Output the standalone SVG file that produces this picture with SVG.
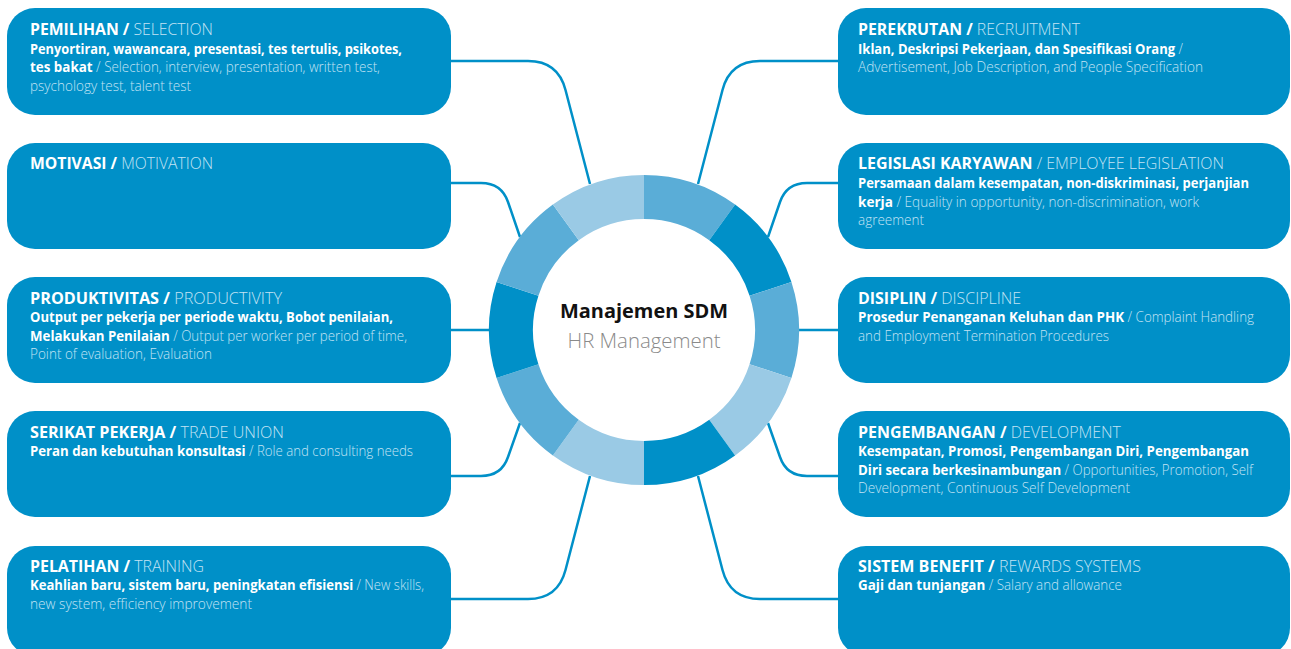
<svg xmlns="http://www.w3.org/2000/svg" width="1291" height="649" viewBox="0 0 1291 649">
<style>
.box{fill:#0090c8}
.t{font-family:"Open Sans","Liberation Sans",sans-serif;font-size:16px}
.b{font-family:"Open Sans","Liberation Sans",sans-serif;font-size:14px}
.w{fill:#ffffff;font-weight:700}
.l{fill:#c3e3f4;font-weight:300}
.conn{fill:none;stroke:#0090c8;stroke-width:2.5;stroke-linejoin:round}
.sd{fill:#0090c8}.sm{fill:#5aadd7}.sl{fill:#9acae5}
</style>
<rect width="1291" height="649" fill="#ffffff"/>
<g id="connectors">
<path class="conn" d="M451,61 H528 Q558,61 565.5,90 L590,184"/>
<path class="conn" d="M451,183 H481 Q501.5,183 508,202 L520,237"/>
<path class="conn" d="M451,330 H490"/>
<path class="conn" d="M451,476 H481 Q501.5,476 508,457 L520,423"/>
<path class="conn" d="M451,599 H528 Q558,599 565.5,570 L590,476"/>
<path class="conn" d="M838,61 H760 Q730,61 722.5,90 L698,184"/>
<path class="conn" d="M838,183 H807 Q786.5,183 780,202 L768,237"/>
<path class="conn" d="M838,330 H798"/>
<path class="conn" d="M838,476 H807 Q786.5,476 780,457 L768,423"/>
<path class="conn" d="M838,599 H760 Q730,599 722.5,570 L698,476"/>
</g>
<g id="ring">
<path class="sm" d="M644,175 A155,155 0 0 1 735.11,204.6 L709.25,240.2 A111,111 0 0 0 644,219 Z"/>
<path class="sd" d="M735.11,204.6 A155,155 0 0 1 791.42,282.1 L749.57,295.7 A111,111 0 0 0 709.25,240.2 Z"/>
<path class="sm" d="M791.42,282.1 A155,155 0 0 1 791.42,377.9 L749.57,364.3 A111,111 0 0 0 749.57,295.7 Z"/>
<path class="sl" d="M791.42,377.9 A155,155 0 0 1 735.11,455.4 L709.25,419.8 A111,111 0 0 0 749.57,364.3 Z"/>
<path class="sd" d="M735.11,455.4 A155,155 0 0 1 644,485 L644,441 A111,111 0 0 0 709.25,419.8 Z"/>
<path class="sl" d="M644,485 A155,155 0 0 1 552.89,455.4 L578.75,419.8 A111,111 0 0 0 644,441 Z"/>
<path class="sm" d="M552.89,455.4 A155,155 0 0 1 496.58,377.9 L538.43,364.3 A111,111 0 0 0 578.75,419.8 Z"/>
<path class="sd" d="M496.58,377.9 A155,155 0 0 1 496.58,282.1 L538.43,295.7 A111,111 0 0 0 538.43,364.3 Z"/>
<path class="sm" d="M496.58,282.1 A155,155 0 0 1 552.89,204.6 L578.75,240.2 A111,111 0 0 0 538.43,295.7 Z"/>
<path class="sl" d="M552.89,204.6 A155,155 0 0 1 644,175 L644,219 A111,111 0 0 0 578.75,240.2 Z"/>
<text x="644" y="318" text-anchor="middle" font-family="Open Sans, Liberation Sans, sans-serif" font-size="20" font-weight="700" fill="#111111" textLength="168" lengthAdjust="spacingAndGlyphs">Manajemen SDM</text>
<text x="644" y="348" text-anchor="middle" font-family="Open Sans, Liberation Sans, sans-serif" font-size="20" font-weight="300" fill="#8a8a8a" textLength="153" lengthAdjust="spacingAndGlyphs">HR Management</text>
</g>
<g id="pemilihan">
<rect class="box" x="7" y="8" width="444" height="107" rx="28"/>
<text class="t" x="30" y="34.5" textLength="183" lengthAdjust="spacingAndGlyphs"><tspan class="w">PEMILIHAN /</tspan><tspan class="l"> SELECTION</tspan></text>
<text class="b" x="30" y="53.5" textLength="372" lengthAdjust="spacingAndGlyphs"><tspan class="w">Penyortiran, wawancara, presentasi, tes tertulis, psikotes,</tspan></text>
<text class="b" x="30" y="72" textLength="350" lengthAdjust="spacingAndGlyphs"><tspan class="w">tes bakat</tspan><tspan class="l"> / Selection, interview, presentation, written test,</tspan></text>
<text class="b" x="30" y="90.5" textLength="161" lengthAdjust="spacingAndGlyphs"><tspan class="l">psychology test, talent test</tspan></text>
</g>
<g id="motivasi">
<rect class="box" x="7" y="143" width="444" height="106" rx="28"/>
<text class="t" x="30" y="169" textLength="183" lengthAdjust="spacingAndGlyphs"><tspan class="w">MOTIVASI /</tspan><tspan class="l"> MOTIVATION</tspan></text>
</g>
<g id="produktivitas">
<rect class="box" x="7" y="277" width="444" height="106" rx="28"/>
<text class="t" x="30" y="303.5" textLength="252" lengthAdjust="spacingAndGlyphs"><tspan class="w">PRODUKTIVITAS /</tspan><tspan class="l"> PRODUCTIVITY</tspan></text>
<text class="b" x="30" y="322" textLength="363" lengthAdjust="spacingAndGlyphs"><tspan class="w">Output per pekerja per periode waktu, Bobot penilaian,</tspan></text>
<text class="b" x="30" y="340.5" textLength="377" lengthAdjust="spacingAndGlyphs"><tspan class="w">Melakukan Penilaian</tspan><tspan class="l"> / Output per worker per period of time,</tspan></text>
<text class="b" x="30" y="359" textLength="182" lengthAdjust="spacingAndGlyphs"><tspan class="l">Point of evaluation, Evaluation</tspan></text>
</g>
<g id="serikat">
<rect class="box" x="7" y="411" width="444" height="106" rx="28"/>
<text class="t" x="30" y="437.5" textLength="254" lengthAdjust="spacingAndGlyphs"><tspan class="w">SERIKAT PEKERJA /</tspan><tspan class="l"> TRADE UNION</tspan></text>
<text class="b" x="30" y="456" textLength="383" lengthAdjust="spacingAndGlyphs"><tspan class="w">Peran dan kebutuhan konsultasi</tspan><tspan class="l"> / Role and consulting needs</tspan></text>
</g>
<g id="pelatihan">
<rect class="box" x="7" y="546" width="444" height="110" rx="28"/>
<text class="t" x="30" y="571.5" textLength="174" lengthAdjust="spacingAndGlyphs"><tspan class="w">PELATIHAN /</tspan><tspan class="l"> TRAINING</tspan></text>
<text class="b" x="30" y="590" textLength="394" lengthAdjust="spacingAndGlyphs"><tspan class="w">Keahlian baru, sistem baru, peningkatan efisiensi</tspan><tspan class="l"> / New skills,</tspan></text>
<text class="b" x="30" y="608.5" textLength="222" lengthAdjust="spacingAndGlyphs"><tspan class="l">new system, efficiency improvement</tspan></text>
</g>
<g id="perekrutan">
<rect class="box" x="838" y="8" width="452" height="107" rx="28"/>
<text class="t" x="858" y="34.5" textLength="222" lengthAdjust="spacingAndGlyphs"><tspan class="w">PEREKRUTAN /</tspan><tspan class="l"> RECRUITMENT</tspan></text>
<text class="b" x="858" y="53.5" textLength="325" lengthAdjust="spacingAndGlyphs"><tspan class="w">Iklan, Deskripsi Pekerjaan, dan Spesifikasi Orang</tspan><tspan class="l"> /</tspan></text>
<text class="b" x="858" y="72" textLength="345" lengthAdjust="spacingAndGlyphs"><tspan class="l">Advertisement, Job Description, and People Specification</tspan></text>
</g>
<g id="legislasi">
<rect class="box" x="838" y="143" width="452" height="106" rx="28"/>
<text class="t" x="858" y="169" textLength="366" lengthAdjust="spacingAndGlyphs"><tspan class="w">LEGISLASI KARYAWAN</tspan><tspan class="l"> / EMPLOYEE LEGISLATION</tspan></text>
<text class="b" x="858" y="188" textLength="391" lengthAdjust="spacingAndGlyphs"><tspan class="w">Persamaan dalam kesempatan, non-diskriminasi, perjanjian</tspan></text>
<text class="b" x="858" y="206.5" textLength="341" lengthAdjust="spacingAndGlyphs"><tspan class="w">kerja</tspan><tspan class="l"> / Equality in opportunity, non-discrimination, work</tspan></text>
<text class="b" x="858" y="225" textLength="66" lengthAdjust="spacingAndGlyphs"><tspan class="l">agreement</tspan></text>
</g>
<g id="disiplin">
<rect class="box" x="838" y="277" width="452" height="106" rx="28"/>
<text class="t" x="858" y="303.5" textLength="163" lengthAdjust="spacingAndGlyphs"><tspan class="w">DISIPLIN /</tspan><tspan class="l"> DISCIPLINE</tspan></text>
<text class="b" x="858" y="322" textLength="396" lengthAdjust="spacingAndGlyphs"><tspan class="w">Prosedur Penanganan Keluhan dan PHK</tspan><tspan class="l"> / Complaint Handling</tspan></text>
<text class="b" x="858" y="340.5" textLength="251" lengthAdjust="spacingAndGlyphs"><tspan class="l">and Employment Termination Procedures</tspan></text>
</g>
<g id="pengembangan">
<rect class="box" x="838" y="411" width="452" height="106" rx="28"/>
<text class="t" x="858" y="437.5" textLength="263" lengthAdjust="spacingAndGlyphs"><tspan class="w">PENGEMBANGAN /</tspan><tspan class="l"> DEVELOPMENT</tspan></text>
<text class="b" x="858" y="456" textLength="391" lengthAdjust="spacingAndGlyphs"><tspan class="w">Kesempatan, Promosi, Pengembangan Diri, Pengembangan</tspan></text>
<text class="b" x="858" y="474.5" textLength="395" lengthAdjust="spacingAndGlyphs"><tspan class="w">Diri secara berkesinambungan</tspan><tspan class="l"> / Opportunities, Promotion, Self</tspan></text>
<text class="b" x="858" y="493" textLength="272" lengthAdjust="spacingAndGlyphs"><tspan class="l">Development, Continuous Self Development</tspan></text>
</g>
<g id="sistem-benefit">
<rect class="box" x="838" y="546" width="452" height="110" rx="28"/>
<text class="t" x="858" y="571.5" textLength="283" lengthAdjust="spacingAndGlyphs"><tspan class="w">SISTEM BENEFIT /</tspan><tspan class="l"> REWARDS SYSTEMS</tspan></text>
<text class="b" x="858" y="590" textLength="264" lengthAdjust="spacingAndGlyphs"><tspan class="w">Gaji dan tunjangan</tspan><tspan class="l"> / Salary and allowance</tspan></text>
</g>
</svg>
